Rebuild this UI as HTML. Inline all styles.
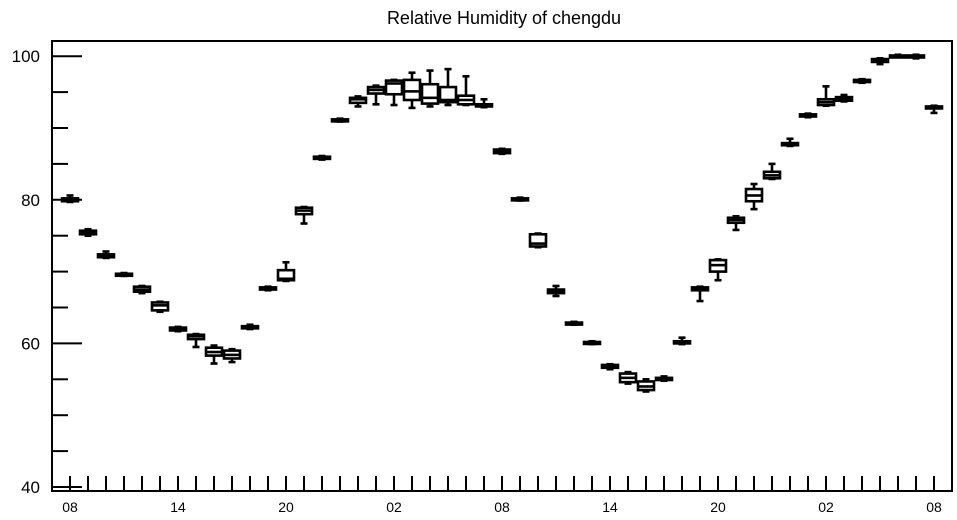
<!DOCTYPE html>
<html><head><meta charset="utf-8"><style>
body{margin:0;background:#fff;}
svg{display:block;font-family:"Liberation Sans",sans-serif;}
</style></head><body>
<svg id="chart" width="957" height="520" viewBox="0 0 957 520" xmlns="http://www.w3.org/2000/svg">
<text x="504" y="24" text-anchor="middle" font-size="18">Relative Humidity of chengdu</text>
<rect x="52" y="41" width="900" height="450" fill="none" stroke="#000" stroke-width="2"/>
<g id="axes"></g>
<g id="boxes"></g>
</svg>
<script>
const hours=[...Array(49).keys()];
const xLabels=["08","14","20","02","08","14","20","02","08"];
const yTicks=[40,60,80,100];
const q1=[79.8,75.2,72,69.5,67.2,64.6,61.8,60.6,58.3,57.9,62.1,67.5,68.8,78,85.7,91,93.5,94.8,94.7,93.9,93.4,93.6,93.3,93,86.5,80,73.5,67,62.7,60,56.6,54.6,53.5,54.9,60,67.4,70,76.8,79.8,83,87.6,91.6,93.2,93.8,96.4,99.2,100,99.9,92.8];
const med=[80,75.4,72.2,69.6,67.5,65.3,62,61,58.8,58.4,62.2,67.6,69,78.5,85.8,91.1,94,95.3,96.2,95.1,94.2,93.9,93.9,93.1,86.7,80.1,73.9,67.2,62.8,60.1,56.8,55.2,54,55,60.1,67.6,70.9,77.2,80.6,83.4,87.7,91.7,93.6,94,96.5,99.4,100,100,92.9];
const q3=[80.2,75.7,72.4,69.7,67.9,65.7,62.2,61.2,59.4,59,62.4,67.8,70.2,78.9,86,91.2,94.2,95.7,96.6,96.7,96.1,95.7,94.5,93.3,87,80.2,75.2,67.5,62.9,60.2,57,55.8,54.7,55.2,60.3,67.8,71.6,77.5,81.5,83.9,87.9,91.9,94,94.3,96.7,99.6,100.1,100.1,93];
const lo=[79.7,75,71.9,69.4,67,64.4,61.7,59.5,57.2,57.4,62,67.4,68.7,76.7,85.6,90.9,93,93.3,93.2,92.8,93,93.2,93.2,92.9,86.4,79.9,73.4,66.6,62.6,59.9,56.4,54.4,53.3,54.8,59.9,65.9,68.8,75.8,78.7,82.9,87.5,91.5,93.1,93.7,96.3,98.9,99.9,99.7,92.1];
const hi=[80.6,75.9,72.8,69.8,68,65.8,62.3,61.3,59.7,59.2,62.6,67.9,71.3,79,86.1,91.3,94.4,95.9,96.7,97.7,98,98.2,97.2,94,87.1,80.3,75.3,68,63,60.3,57.1,56,55,55.4,60.8,67.9,71.7,77.7,82.2,85,88.5,92,95.8,94.6,96.8,99.7,100.2,100.2,93.1];
const NS="http://www.w3.org/2000/svg";
const X=h=>70+h*18, Y=v=>487-(v-40)*7.18;
const axes=document.getElementById('axes'), boxes=document.getElementById('boxes');
function mk(tag,attrs,parent){const e=document.createElementNS(NS,tag);for(const k in attrs)e.setAttribute(k,attrs[k]);parent.appendChild(e);return e;}
for(let v=40;v<=100;v+=5){const major=v%20===0;
 const t=mk('line',{x1:52,x2:major?82:68,y1:Y(v),y2:Y(v),stroke:'#000','stroke-width':2},axes);
 
 }
yTicks.forEach(v=>{const t=mk('text',{x:40,y:Y(v)+6,'text-anchor':'end','font-size':17},axes);t.textContent=v;
 
 });
hours.forEach(h=>{const t=mk('line',{x1:X(h),x2:X(h),y1:491,y2:476,stroke:'#000','stroke-width':2},axes);
 
 });
xLabels.forEach((l,i)=>{const t=mk('text',{x:X(i*6),y:512,'text-anchor':'middle','font-size':14},axes);t.textContent=l;
 
 });
hours.forEach(h=>{const g=mk('g',{stroke:'#000','stroke-width':2.6,fill:'#fff'},boxes);
 
 
 const x=X(h),w=16;
 mk('line',{x1:x,x2:x,y1:Y(hi[h]),y2:Y(q3[h])},g);
 mk('line',{x1:x,x2:x,y1:Y(lo[h]),y2:Y(q1[h])},g);
 mk('line',{x1:x-3.5,x2:x+3.5,y1:Y(hi[h]),y2:Y(hi[h])},g);
 mk('line',{x1:x-3.5,x2:x+3.5,y1:Y(lo[h]),y2:Y(lo[h])},g);
 const top=Y(q3[h]),bot=Y(q1[h]);
 mk('rect',{x:x-w/2,y:top,width:w,height:Math.max(bot-top,2)},g);
 mk('line',{x1:x-w/2,x2:x+w/2,y1:Y(med[h]),y2:Y(med[h])},g);
});
</script>
</body></html>
